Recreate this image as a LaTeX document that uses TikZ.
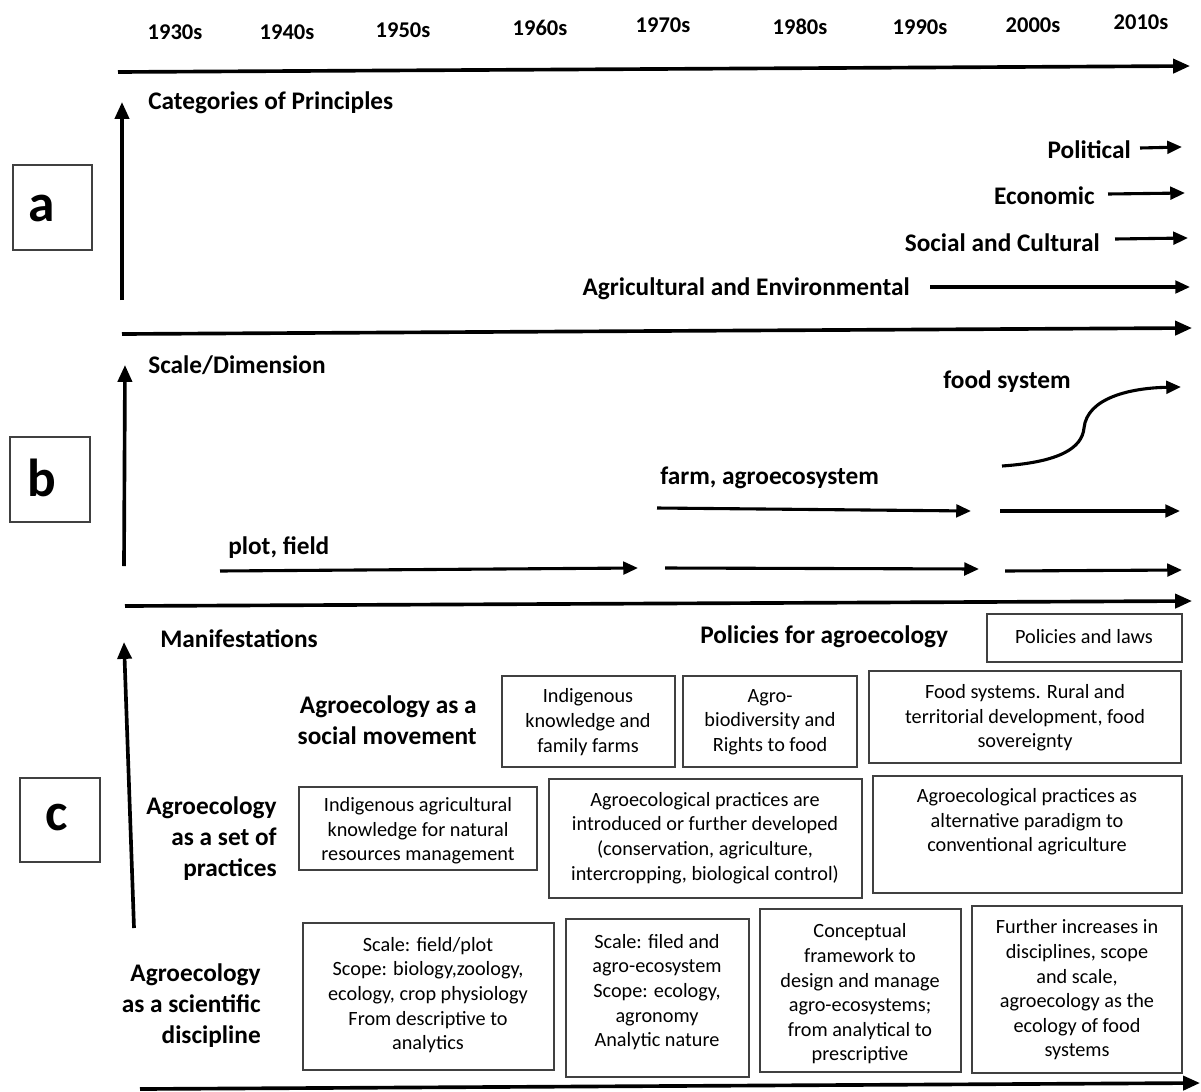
\documentclass[tikz,border=0pt]{standalone}
\usepackage{fontspec}
\setmainfont{Carlito}
\usetikzlibrary{arrows.meta}
\tikzset{
  year/.style={font=\bfseries\fontsize{16}{19}\selectfont, inner sep=0pt},
  lab/.style={font=\bfseries\fontsize{18}{21}\selectfont, inner sep=0pt},
  biglab/.style={font=\bfseries\fontsize{18}{22}\selectfont, inner sep=0pt, align=right},
  txt/.style={font=\fontsize{14.4}{17.5}\selectfont, inner sep=0pt, align=center},
  letter/.style={font=\bfseries\fontsize{38}{44}\selectfont, inner sep=0pt},
  boxline/.style={draw=black!75, line width=0.9pt},
  axis/.style={line width=2.6pt, -{Triangle[length=12pt,width=10pt]}},
  arr/.style={line width=2.2pt, -{Triangle[length=10.5pt,width=9pt]}},
}
\begin{document}
\begin{tikzpicture}[x=0.025cm,y=-0.025cm]
\useasboundingbox (0,0) rectangle (1201,1091);

% years
\node[year] (y30) at (175,32) {1930s};
\node[year] (y40) at (287,32) {1940s};
\node[year] (y50) at (403,30) {1950s};
\node[year] (y60) at (540,28) {1960s};
\node[year] (y70) at (663,25) {1970s};
\node[year] (y80) at (800,27) {1980s};
\node[year] (y90) at (920,27) {1990s};
\node[year] (y00) at (1033,25) {2000s};
\node[year] (y10) at (1141,22) {2010s};

% top axis
\coordinate (ax1a) at (118,72);
\coordinate (ax1b) at (1190,66);
\draw[axis] (ax1a) -- (ax1b);

% section a
\draw[boxline] (13,165) rectangle (92,250);
\node[letter] (la) at (42,208) {a};
\coordinate (va1) at (122,300);
\coordinate (va2) at (122,102);
\draw[axis] (va1) -- (va2);
\node[lab, anchor=west] (cat) at (148,103) {Categories of Principles};

\node[lab, anchor=east] (pol) at (1131,150) {Political};
\coordinate (polA) at (1140,148);
\coordinate (polB) at (1182,147);
\draw[arr] (polA) -- (polB);

\node[lab, anchor=east] (eco) at (1095,196) {Economic};
\coordinate (ecoA) at (1108,194);
\coordinate (ecoB) at (1185,193);
\draw[arr] (ecoA) -- (ecoB);

\node[lab, anchor=east] (soc) at (1100,243) {Social and Cultural};
\coordinate (socA) at (1115,239);
\coordinate (socB) at (1188,238);
\draw[arr] (socA) -- (socB);

\node[lab, anchor=east] (agr) at (910,289) {Agricultural and Environmental};
\coordinate (agrA) at (930,287);
\coordinate (agrB) at (1190,287);
\draw[arr] (agrA) -- (agrB);

\coordinate (ax2a) at (122,334);
\coordinate (ax2b) at (1192,328);
\draw[axis] (ax2a) -- (ax2b);

% section b
\draw[boxline] (10,437) rectangle (90,522);
\node[letter] (lb) at (42,478) {b};
\coordinate (vb1) at (124,566);
\coordinate (vb2) at (125,365);
\draw[axis] (vb1) -- (vb2);
\node[lab, anchor=west] (scl) at (148,365) {Scale/Dimension};

\node[lab, anchor=west] (plot) at (228,548) {plot, field};
\coordinate (p1a) at (220,571);
\coordinate (p1b) at (638,568);
\draw[arr] (p1a) -- (p1b);
\coordinate (p2a) at (665,568);
\coordinate (p2b) at (979,569);
\draw[arr] (p2a) -- (p2b);
\coordinate (p3a) at (1005,571);
\coordinate (p3b) at (1182,570);
\draw[arr] (p3a) -- (p3b);

\node[lab, anchor=west] (farm) at (660,478) {farm, agroecosystem};
\coordinate (f1a) at (657,508);
\coordinate (f1b) at (971,511);
\draw[arr] (f1a) -- (f1b);
\coordinate (f2a) at (1000,511);
\coordinate (f2b) at (1180,511);
\draw[arr] (f2a) -- (f2b);

\node[lab, anchor=west] (food) at (943,382) {food system};
\coordinate (fsA) at (1002,466);
\coordinate (fsM) at (1084,428);
\coordinate (fsB) at (1181,387);
\draw[arr] (fsA) .. controls (1060,462) and (1082,448) .. (fsM)
  .. controls (1087,398) and (1130,388) .. (fsB);

\coordinate (ax3a) at (125,606);
\coordinate (ax3b) at (1192,601);
\draw[axis] (ax3a) -- (ax3b);

% section c
\draw[boxline] (20,778) rectangle (100,862);
\node[letter] (lc) at (57,818) {c};
\coordinate (vc1) at (134,928);
\coordinate (vc2) at (124,642);
\draw[axis] (vc1) -- (vc2);
\node[lab, anchor=west] (man) at (160,639) {Manifestations};

\node[biglab, anchor=west, align=left] (polag) at (700,637) {Policies for agroecology};
\draw[boxline] (987,614) rectangle (1182,662);
\node[txt] (plaws) at (1084,637) {Policies and laws};

\node[biglab, anchor=east] (socmov) at (477,720) {Agroecology as a\\social movement};
\draw[boxline] (502,676) rectangle (675,767);
\node[txt] (s1) at (588,722) {Indigenous\\knowledge and\\family farms};
\draw[boxline] (683,676) rectangle (857,767);
\node[txt] (s2) at (770,722) {Agro-\\biodiversity and\\Rights to food};
\draw[boxline] (869,671) rectangle (1181,763);
\node[txt] (s3) at (1025,718) {Food systems. Rural and\\territorial development, food\\sovereignty};

\node[biglab, anchor=east] (prac) at (277,839) {Agroecology\\as a set of\\practices};
\draw[boxline] (299,787) rectangle (537,870);
\node[txt] (pr1) at (418,831) {Indigenous agricultural\\knowledge for natural\\resources management};
\draw[boxline] (549,779) rectangle (862,898);
\node[txt] (pr2) at (705,838) {Agroecological practices are\\introduced or further developed\\(conservation, agriculture,\\intercropping, biological control)};
\draw[boxline] (873,776) rectangle (1182,893);
\node[txt] (pr3) at (1027,822) {Agroecological practices as\\alternative paradigm to\\conventional agriculture};

\node[biglab, anchor=east] (sci) at (261,1006) {Agroecology\\as a scientific\\discipline};
\draw[boxline] (303,923) rectangle (554,1070);
\node[txt] (d1) at (428,995) {Scale: field/plot\\Scope: biology,zoology,\\ecology, crop physiology\\From descriptive to\\analytics};
\draw[boxline] (566,919) rectangle (749,1077);
\node[txt] (d2) at (657,992) {Scale: filed and\\agro-ecosystem\\Scope: ecology,\\agronomy\\Analytic nature};
\draw[boxline] (760,909) rectangle (961,1072);
\node[txt] (d3) at (860,994) {Conceptual\\framework to\\design and manage\\agro-ecosystems;\\from analytical to\\prescriptive};
\draw[boxline] (972,906) rectangle (1182,1073);
\node[txt] (d4) at (1077,990) {Further increases in\\disciplines, scope\\and scale,\\agroecology as the\\ecology of food\\systems};

\coordinate (ax4a) at (140,1089);
\coordinate (ax4b) at (1200,1083);
\draw[axis] (ax4a) -- (ax4b);
\end{tikzpicture}
\end{document}
